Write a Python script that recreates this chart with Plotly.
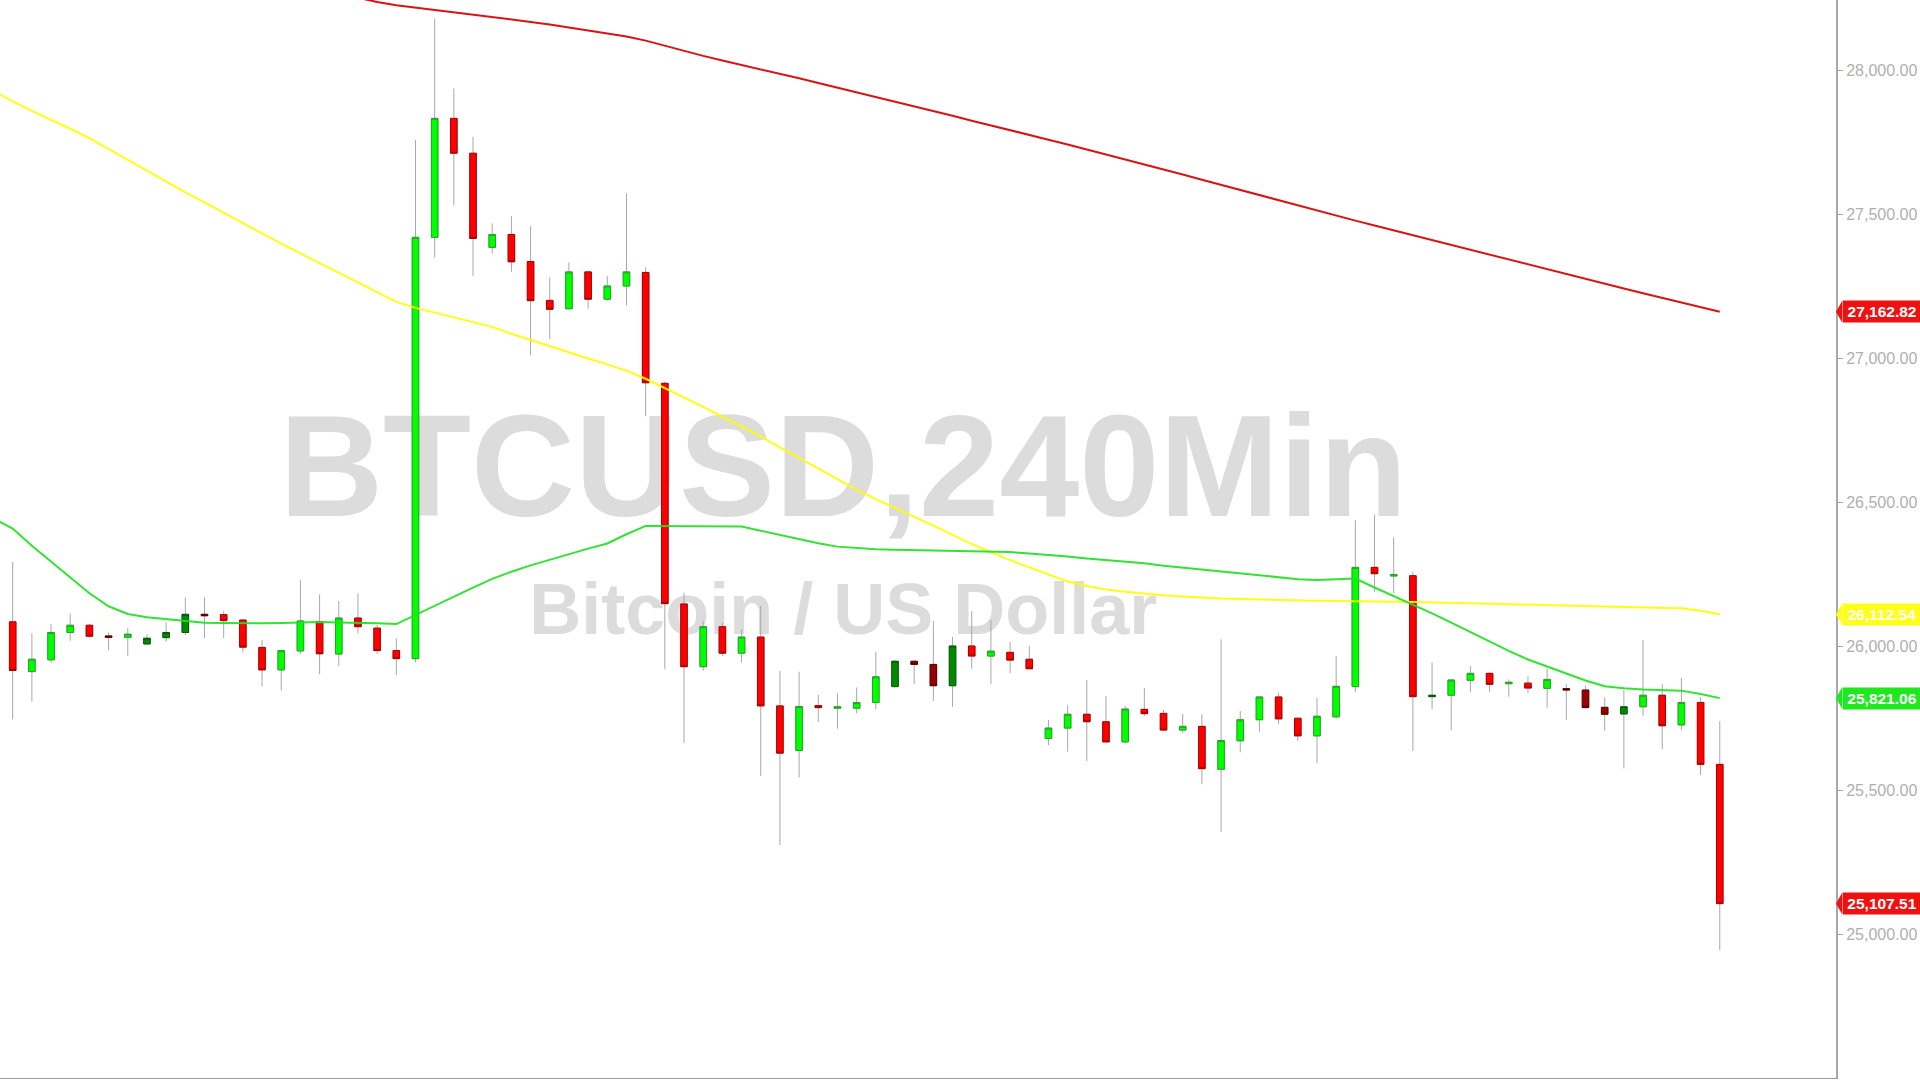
import plotly.graph_objects as go

# ---------------- data ----------------
candle_index = list(range(90))

open_ = [26086, 25913, 25954, 26049, 26074, 26037, 26032, 26009, 26031, 26049,
         26112, 26111, 26092, 25997, 25919, 25985, 26087, 25974, 26099, 26064,
         25986, 25958, 27421, 27834, 27713, 27386, 27431, 27337, 27202, 27173,
         27301, 27206, 27252, 27299, 26914, 26148, 25930, 26069, 25977, 26033,
         25794, 25639, 25795, 25786, 25786, 25806, 25861, 25949, 25938, 25864,
         26002, 25967, 25980, 25956, 25681, 25717, 25765, 25739, 25669, 25782,
         25768, 25710, 25723, 25574, 25673, 25746, 25825, 25751, 25690, 25756,
         25861, 26275, 26245, 26246, 25826, 25831, 25883, 25907, 25871, 25873,
         25855, 25854, 25849, 25789, 25766, 25791, 25831, 25728, 25806, 25591]
high = [26294, 26046, 26078, 26115, 26078, 26049, 26064, 26043, 26084, 26171,
        26171, 26123, 26095, 26023, 25990, 26231, 26181, 26158, 26185, 26075,
        26029, 27759, 28181, 27938, 27770, 27469, 27495, 27460, 27282, 27334,
        27305, 27287, 27574, 27317, 26920, 26187, 26089, 26083, 26060, 26141,
        25915, 25913, 25832, 25838, 25858, 25982, 25952, 25952, 26089, 26033,
        26123, 26092, 26016, 26002, 25745, 25795, 25884, 25828, 25795, 25856,
        25780, 25766, 25765, 26025, 25776, 25828, 25840, 25752, 25822, 25967,
        26439, 26459, 26379, 26260, 25945, 25886, 25932, 25910, 25886, 25897,
        25924, 25870, 25864, 25824, 25849, 26023, 25870, 25891, 25824, 25741]
low = [25747, 25809, 25942, 26020, 26030, 25988, 25968, 26005, 26017, 26040,
       26029, 26029, 25979, 25861, 25848, 25974, 25904, 25933, 26046, 25974,
       25901, 25945, 27351, 27531, 27287, 27365, 27301, 27012, 27067, 27171,
       27173, 27201, 27185, 26800, 25921, 25665, 25916, 25967, 25945, 25551,
       25311, 25545, 25738, 25715, 25768, 25782, 25858, 25870, 25812, 25791,
       25923, 25871, 25908, 25921, 25658, 25635, 25603, 25667, 25664, 25759,
       25708, 25699, 25522, 25357, 25633, 25704, 25731, 25672, 25595, 25750,
       25841, 26190, 26185, 25638, 25782, 25710, 25842, 25842, 25826, 25838,
       25788, 25745, 25786, 25708, 25577, 25760, 25644, 25710, 25554, 24946]
close = [25917, 25956, 26049, 26074, 26036, 26032, 26043, 26029, 26049, 26112,
         26107, 26090, 25998, 25919, 25986, 26089, 25975, 26099, 26069, 25986,
         25958, 27421, 27834, 27713, 27417, 27431, 27336, 27201, 27171, 27301,
         27206, 27252, 27301, 26916, 26149, 25930, 26069, 25977, 26033, 25794,
         25630, 25792, 25788, 25791, 25806, 25895, 25949, 25938, 25864, 26002,
         25967, 25984, 25953, 25923, 25717, 25765, 25739, 25669, 25783, 25767,
         25710, 25723, 25576, 25674, 25746, 25825, 25749, 25690, 25758, 25862,
         26275, 26253, 26250, 25826, 25831, 25884, 25907, 25869, 25876, 25856,
         25886, 25849, 25788, 25765, 25791, 25831, 25725, 25806, 25591, 25107.51]
dark_candles = [5, 7, 8, 9, 10, 46, 47, 48, 49, 74, 81, 82, 83, 84]

ma_index = list(range(-1, 90))
ma_red = [28580, 28560, 28540, 28520, 28500, 28480, 28460, 28440, 28420, 28400,
          28385, 28370, 28355, 28340, 28325, 28310, 28295, 28282, 28268, 28254,
          28238, 28227, 28219, 28210, 28202, 28194, 28186, 28178, 28169, 28160,
          28150, 28140, 28130, 28118, 28104, 28086, 28068, 28051, 28035, 28020,
          28004, 27988, 27973, 27957, 27941, 27925, 27909, 27892, 27876, 27859,
          27843, 27826, 27810, 27794, 27777, 27760, 27743, 27726, 27709, 27692,
          27675, 27657, 27639, 27621, 27603, 27585, 27567, 27549, 27531, 27513,
          27496, 27479, 27462, 27445, 27428, 27411, 27394, 27377, 27360, 27343,
          27326, 27309, 27292, 27276, 27260, 27243, 27227, 27211, 27195, 27179,
          27162.82]
ma_yellow = [27930, 27893, 27860, 27830, 27798, 27765, 27727, 27690, 27652, 27615,
             27577, 27542, 27506, 27470, 27434, 27399, 27365, 27331, 27297, 27263,
             27229, 27197, 27176, 27160, 27143, 27128, 27110, 27086, 27064, 27043,
             27022, 27000, 26980, 26958, 26930, 26898, 26866, 26832, 26798, 26765,
             26730, 26692, 26655, 26618, 26580, 26545, 26512, 26482, 26452, 26420,
             26388, 26356, 26328, 26300, 26275, 26250, 26226, 26210, 26198, 26190,
             26183, 26178, 26174, 26170, 26167, 26165, 26163, 26161, 26160, 26159,
             26158, 26158, 26157, 26156, 26155, 26154, 26152, 26151, 26149, 26147,
             26145, 26143, 26142, 26140, 26139, 26137, 26136, 26135, 26133, 26124,
             26112.54]
ma_green = [26445, 26410, 26350, 26295, 26240, 26185, 26140, 26113, 26102, 26095,
            26089, 26083, 26082, 26081, 26081, 26082, 26084, 26085, 26084, 26083,
            26081, 26078, 26110, 26140, 26172, 26205, 26235, 26260, 26282, 26302,
            26322, 26340, 26358, 26390, 26419, 26419, 26419, 26419, 26418, 26417,
            26402, 26387, 26372, 26359, 26347, 26342, 26338, 26336, 26335, 26334,
            26333, 26332, 26331, 26328, 26323, 26319, 26313, 26306, 26300, 26296,
            26289, 26281, 26274, 26267, 26260, 26253, 26246, 26240, 26234, 26231,
            26233, 26236, 26205, 26175, 26147, 26115, 26083, 26050, 26018, 25985,
            25955, 25930, 25905, 25882, 25862, 25855, 25851, 25849, 25847, 25835,
            25821.06]

y_ticks = [25000, 25500, 26000, 26500, 27000, 27500, 28000]
title_text = "BTCUSD,240Min"
subtitle_text = "Bitcoin / US Dollar"

# ---------------- styling ----------------
FONT = "Liberation Sans, Arial, sans-serif"
C_UP, C_UP_LINE = "#00ff00", "#20a820"
C_DN, C_DN_LINE = "#ff0000", "#a80000"
C_UP_DK, C_UP_DK_LINE = "#008c00", "#005a00"
C_DN_DK, C_DN_DK_LINE = "#990000", "#5a0000"
C_WICK = "#a8a8a8"
C_MA_RED, C_MA_YEL, C_MA_GRN = "#d40000", "#ffff00", "#22e022"
Y_RANGE = [24502, 28245]
X_RANGE = [-0.662, 95.06]
PX_PER_UNIT = 1078 / (Y_RANGE[1] - Y_RANGE[0])

fig = go.Figure()

# watermark on the base subplot (drawn beneath the overlaid data subplot)
fig.add_trace(go.Scatter(
    x=[43.3, 43.3], y=[26580, 26106], mode="text",
    text=[f"<b>{title_text}</b>", f"<b>{subtitle_text}</b>"],
    textposition="middle center",
    textfont=dict(size=[144, 72], color="#dcdcdc", family=FONT),
    hoverinfo="skip", showlegend=False, xaxis="x", yaxis="y"))

# wicks (gray) drawn first
fig.add_trace(go.Candlestick(
    x=candle_index, open=open_, high=high, low=low, close=close,
    increasing=dict(line=dict(color=C_WICK, width=1), fillcolor=C_WICK),
    decreasing=dict(line=dict(color=C_WICK, width=1), fillcolor=C_WICK),
    whiskerwidth=0, hoverinfo="skip", showlegend=False,
    xaxis="x2", yaxis="y2"))

# bodies: bright and dark tones, drawn over the wicks
for dark in (False, True):
    idx = [i for i in candle_index if (i in dark_candles) == dark]
    b_open = [open_[i] for i in idx]
    b_close = [close[i] for i in idx]
    up_fill, up_line = (C_UP_DK, C_UP_DK_LINE) if dark else (C_UP, C_UP_LINE)
    dn_fill, dn_line = (C_DN_DK, C_DN_DK_LINE) if dark else (C_DN, C_DN_LINE)
    fig.add_trace(go.Candlestick(
        x=idx, open=b_open, close=b_close,
        high=[max(o, c) for o, c in zip(b_open, b_close)],
        low=[min(o, c) for o, c in zip(b_open, b_close)],
        increasing=dict(line=dict(color=up_line, width=1), fillcolor=up_fill),
        decreasing=dict(line=dict(color=dn_line, width=1), fillcolor=dn_fill),
        whiskerwidth=0, hoverinfo="skip", showlegend=False,
        xaxis="x2", yaxis="y2"))

# moving averages
for vals, col in [(ma_red, C_MA_RED), (ma_yellow, C_MA_YEL), (ma_green, C_MA_GRN)]:
    fig.add_trace(go.Scatter(
        x=ma_index, y=vals, mode="lines",
        line=dict(color=col, width=2), opacity=0.92,
        hoverinfo="skip", showlegend=False, xaxis="x2", yaxis="y2"))

# price tags on the right axis
tags = [(ma_red[-1], "#ee1111"), (ma_yellow[-1], "#ffff1a"),
        (ma_green[-1], "#1ee81e"), (close[-1], "#ee1111")]
annotations, shapes = [], []
half_h = 10.5 / PX_PER_UNIT
dx = 6 / 1836
for v, col in tags:
    annotations.append(dict(
        x=1, xref="paper", xanchor="left", xshift=6,
        y=v, yref="y", yanchor="middle",
        text=f"<b>{v:,.2f}</b>", showarrow=False,
        font=dict(color="white", size=15.5, family=FONT),
        bgcolor=col, width=76, height=19, borderpad=1, align="center"))
    shapes.append(dict(
        type="path", xref="paper", yref="y",
        path=f"M 1,{v} L {1 + dx},{v + half_h} L {1 + dx},{v - half_h} Z",
        fillcolor=col, line=dict(width=0)))

fig.update_layout(
    width=1920, height=1080,
    margin=dict(l=0, r=84, t=0, b=2),
    paper_bgcolor="white", plot_bgcolor="white",
    boxgap=0.51, boxmode="overlay",
    showlegend=False,
    annotations=annotations, shapes=shapes,
    xaxis=dict(range=X_RANGE, showgrid=False, zeroline=False,
               showticklabels=False, ticks="",
               rangeslider=dict(visible=False),
               showline=True, linecolor="#9a9a9a", linewidth=1),
    xaxis2=dict(range=X_RANGE, overlaying="x", showgrid=False, zeroline=False,
                showticklabels=False, ticks="", showline=False,
                rangeslider=dict(visible=False)),
    yaxis=dict(range=Y_RANGE, side="right", showgrid=False, zeroline=False,
               tickvals=y_ticks, tickformat=",.2f",
               ticks="outside", ticklen=5, tickcolor="#a8a8a8", tickwidth=1,
               tickfont=dict(size=16, color="#b0b0b0", family=FONT),
               showline=True, linecolor="#a8a8a8", linewidth=2),
    yaxis2=dict(range=Y_RANGE, overlaying="y", side="right", showgrid=False,
                zeroline=False, showticklabels=False, ticks="", showline=False),
    font=dict(family=FONT),
)

fig.write_html("out.html", config={"displayModeBar": False},
               post_script="document.body.style.margin='0';")
